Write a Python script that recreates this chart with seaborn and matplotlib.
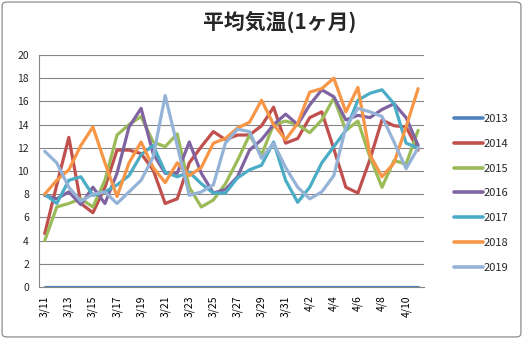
import matplotlib
matplotlib.use("Agg")
import matplotlib.pyplot as plt
from matplotlib.patches import FancyBboxPatch
import numpy as np
import pandas as pd
import seaborn as sns

# 日付 (3/11 〜 4/11)
dates = ["3/11", "3/12", "3/13", "3/14", "3/15", "3/16", "3/17", "3/18", "3/19", "3/20",
         "3/21", "3/22", "3/23", "3/24", "3/25", "3/26", "3/27", "3/28", "3/29", "3/30",
         "3/31", "4/1", "4/2", "4/3", "4/4", "4/5", "4/6", "4/7", "4/8", "4/9",
         "4/10", "4/11"]

years = ["2013", "2014", "2015", "2016", "2017", "2018", "2019"]

t2013 = [0.0] * 32
t2014 = [4.6, 8.8, 12.9, 7.2, 6.4, 8.6, 11.8, 11.8, 11.5, 10.1,
         7.2, 7.6, 10.7, 12.1, 13.4, 12.7, 13.1, 13.1, 13.9, 15.5,
         12.4, 12.8, 14.6, 15.1, 11.9, 8.6, 8.1, 11.0, 14.4, 13.9,
         13.8, 11.8]
t2015 = [4.0, 6.9, 7.2, 7.6, 6.9, 9.2, 13.1, 14.0, 14.7, 12.5,
         12.1, 13.2, 8.6, 6.9, 7.5, 8.9, 10.9, 13.1, 11.4, 14.0,
         14.3, 14.0, 13.3, 14.4, 16.3, 13.5, 14.3, 11.2, 8.6, 10.9,
         10.6, 13.5]
t2016 = [7.9, 7.6, 8.2, 7.1, 8.6, 7.2, 9.8, 13.8, 15.4, 11.5,
         9.8, 9.8, 12.5, 9.8, 8.1, 8.4, 9.5, 11.8, 12.7, 14.0,
         14.9, 14.0, 15.7, 17.0, 16.4, 14.4, 14.8, 14.6, 15.3, 15.8,
         14.6, 12.2]
t2017 = [8.0, 7.2, 9.2, 9.5, 7.9, 8.2, 8.8, 9.6, 11.4, 12.2,
         9.9, 9.5, 9.9, 8.9, 8.1, 8.1, 9.4, 10.1, 10.5, 12.5,
         9.2, 7.3, 8.6, 10.7, 12.1, 13.5, 16.1, 16.7, 17.0, 15.8,
         12.4, 12.0]
t2018 = [8.0, 9.2, 10.1, 12.2, 13.8, 10.7, 7.8, 10.7, 12.5, 10.3,
         9.0, 10.7, 9.6, 10.3, 12.4, 12.8, 13.7, 14.2, 16.1, 14.0,
         12.7, 14.1, 16.8, 17.1, 18.0, 15.1, 17.2, 11.4, 9.5, 10.7,
         13.8, 17.1]
t2019 = [11.7, 10.7, 8.6, 7.4, 8.0, 8.2, 7.2, 8.2, 9.2, 11.2,
         16.5, 12.2, 7.9, 8.2, 8.8, 12.4, 13.6, 13.4, 11.1, 12.4,
         10.3, 8.6, 7.6, 8.2, 9.6, 13.8, 15.4, 15.1, 14.7, 12.5,
         10.2, 12.0]

series = [t2013, t2014, t2015, t2016, t2017, t2018, t2019]
colors = ["#4F81BD", "#C0504D", "#9BBB59", "#8064A2", "#4BACC6", "#F79646", "#95B3D7"]

df = pd.concat(
    [pd.DataFrame({"idx": np.arange(len(dates)), "temp": vals, "year": y})
     for y, vals in zip(years, series)],
    ignore_index=True,
)

sns.set_style("white")
plt.rcParams["font.family"] = ["Noto Sans CJK JP", "DejaVu Sans"]

fig = plt.figure(figsize=(5.23, 3.39), dpi=100)
ax = fig.add_axes([0.074, 0.1534, 0.737, 0.6844])

sns.lineplot(data=df, x="idx", y="temp", hue="year", palette=colors,
             linewidth=2.3, sort=False, ax=ax, legend=True)

grid_c = "#868686"
ax.set_ylim(0, 20)
ax.set_yticks(np.arange(0, 21, 2))
ax.set_xlim(-0.5, len(dates) - 0.5)
ax.set_xticks(np.arange(0, len(dates), 2))
ax.set_xticklabels(dates[::2], rotation=90)
ax.set_xticks(np.arange(-0.5, len(dates), 2), minor=True)
ax.tick_params(axis="x", which="major", length=0, labelsize=7.5, pad=6, colors="#000000")
ax.tick_params(axis="x", which="minor", length=5, width=0.8, color=grid_c)
ax.tick_params(axis="y", length=4, width=0.8, color=grid_c, labelsize=7.5, pad=3)
ax.yaxis.grid(True, color=grid_c, linewidth=0.8)
ax.set_axisbelow(True)
ax.set_xlabel("")
ax.set_ylabel("")
for s in ["top", "right"]:
    ax.spines[s].set_visible(False)
for s in ["left", "bottom"]:
    ax.spines[s].set_color(grid_c)
    ax.spines[s].set_linewidth(0.8)

leg = ax.legend(loc="upper left", bbox_to_anchor=(1.065, 0.765), frameon=False,
                fontsize=8, handlelength=2.6, handletextpad=0.1,
                labelspacing=1.33, borderaxespad=0)
for line in leg.get_lines():
    line.set_linewidth(2.6)

fig.text(0.535, 0.935, "平均気温(1ヶ月)", ha="center", va="center",
         fontsize=15, fontweight="bold")

border = FancyBboxPatch((0.004, 0.006), 0.992, 0.988,
                        boxstyle="round,pad=0,rounding_size=0.01",
                        transform=fig.transFigure, fill=False,
                        edgecolor="#8c8c8c", linewidth=0.9)
fig.patches.append(border)

fig.savefig("out.png", dpi=100)
